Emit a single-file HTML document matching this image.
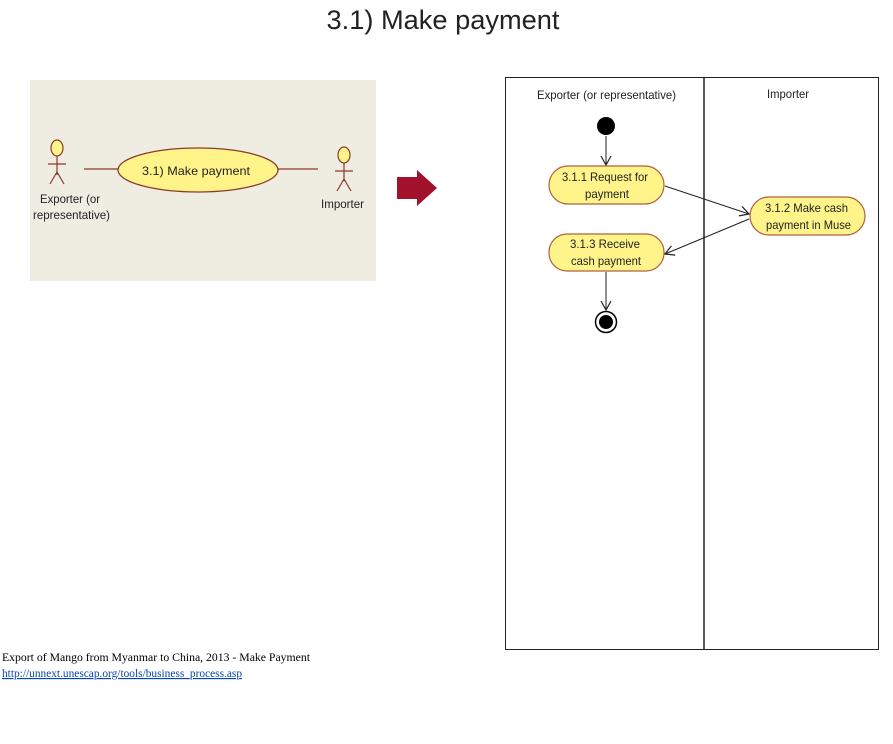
<!DOCTYPE html>
<html><head><meta charset="utf-8"><style>
html,body{margin:0;padding:0;background:#fff;}
svg{display:block;}
.s{font-family:"Liberation Sans",sans-serif;}
.c{font-family:"Liberation Sans",sans-serif;font-size:12px;fill:#222;}
</style></head><body>
<svg width="893" height="744" viewBox="0 0 893 744" xmlns="http://www.w3.org/2000/svg">
<defs>
<marker id="a" markerWidth="12" markerHeight="12" refX="10" refY="6" orient="auto" markerUnits="userSpaceOnUse">
<path d="M1,1 L10,6 L1,11" fill="none" stroke="#222" stroke-width="1.2"/>
</marker>
</defs>
<text x="443" y="29" text-anchor="middle" class="s" font-size="27" fill="#222" textLength="233" lengthAdjust="spacingAndGlyphs">3.1) Make payment</text>

<rect x="30" y="80" width="346" height="201" fill="#efece2"/>
<g stroke="#8a3b2c" stroke-width="1.2" fill="none">
<ellipse cx="57" cy="148" rx="6" ry="8" fill="#fff48a"/>
<line x1="57" y1="156" x2="57" y2="175"/>
<line x1="48" y1="164" x2="66" y2="164"/>
<line x1="57" y1="172" x2="50" y2="184"/>
<line x1="57" y1="172" x2="64" y2="184"/>
<line x1="84" y1="169" x2="118" y2="169"/>
<line x1="278" y1="169" x2="318" y2="169"/>
<ellipse cx="344" cy="155" rx="6" ry="8" fill="#fff48a"/>
<line x1="344" y1="163" x2="344" y2="181"/>
<line x1="335" y1="171" x2="353" y2="171"/>
<line x1="344" y1="179" x2="337" y2="191"/>
<line x1="344" y1="179" x2="351" y2="191"/>
<ellipse cx="198" cy="170" rx="80" ry="22" fill="#fff48a" stroke-width="1.3"/>
</g>
<text x="142" y="175" class="c" font-size="13" textLength="108" lengthAdjust="spacingAndGlyphs">3.1) Make payment</text>
<text x="40" y="203" class="c" textLength="60" lengthAdjust="spacingAndGlyphs">Exporter (or</text>
<text x="33" y="219" class="c" textLength="77" lengthAdjust="spacingAndGlyphs">representative)</text>
<text x="321" y="208" class="c" textLength="43" lengthAdjust="spacingAndGlyphs">Importer</text>

<polygon points="397,177 417,177 417,170 437,188 417,206 417,199 397,199" fill="#a3122c"/>

<rect x="505.5" y="77.5" width="373" height="572" fill="none" stroke="#222" stroke-width="1"/>
<line x1="704" y1="77" x2="704" y2="650" stroke="#222" stroke-width="1.5"/>
<text x="537" y="99" class="c" textLength="139" lengthAdjust="spacingAndGlyphs">Exporter (or representative)</text>
<text x="767" y="98" class="c" textLength="42" lengthAdjust="spacingAndGlyphs">Importer</text>

<circle cx="606" cy="126" r="9" fill="#000"/>
<line x1="606" y1="136" x2="606" y2="165" stroke="#222" marker-end="url(#a)"/>
<g fill="#fff48a" stroke="#b0603c" stroke-width="1.2">
<rect x="549" y="166" width="115" height="38" rx="19"/>
<rect x="750" y="197" width="115" height="38" rx="19"/>
<rect x="549" y="234" width="115" height="37" rx="18"/>
</g>
<text x="562" y="181" class="c" textLength="86" lengthAdjust="spacingAndGlyphs">3.1.1 Request for</text>
<text x="585" y="198" class="c" textLength="44" lengthAdjust="spacingAndGlyphs">payment</text>
<text x="765" y="212" class="c" textLength="83" lengthAdjust="spacingAndGlyphs">3.1.2 Make cash</text>
<text x="766" y="229" class="c" textLength="85" lengthAdjust="spacingAndGlyphs">payment in Muse</text>
<text x="570" y="248" class="c" textLength="70" lengthAdjust="spacingAndGlyphs">3.1.3 Receive</text>
<text x="571" y="265" class="c" textLength="70" lengthAdjust="spacingAndGlyphs">cash payment</text>
<line x1="665" y1="186" x2="749" y2="214" stroke="#222" marker-end="url(#a)"/>
<line x1="749" y1="219" x2="665" y2="254" stroke="#222" marker-end="url(#a)"/>
<line x1="606" y1="272" x2="606" y2="310" stroke="#222" marker-end="url(#a)"/>
<circle cx="606" cy="322" r="10.5" fill="#fff" stroke="#000" stroke-width="1.5"/>
<circle cx="606" cy="322" r="7" fill="#000"/>

<text x="2" y="661" font-family="Liberation Serif,serif" font-size="11.5" fill="#000" textLength="308" lengthAdjust="spacingAndGlyphs">Export of Mango from Myanmar to China, 2013 - Make Payment</text>
<text x="2" y="677" font-family="Liberation Serif,serif" font-size="11.5" fill="#0645ad" text-decoration="underline" textLength="240" lengthAdjust="spacingAndGlyphs">http://unnext.unescap.org/tools/business_process.asp</text>
</svg>
</body></html>
